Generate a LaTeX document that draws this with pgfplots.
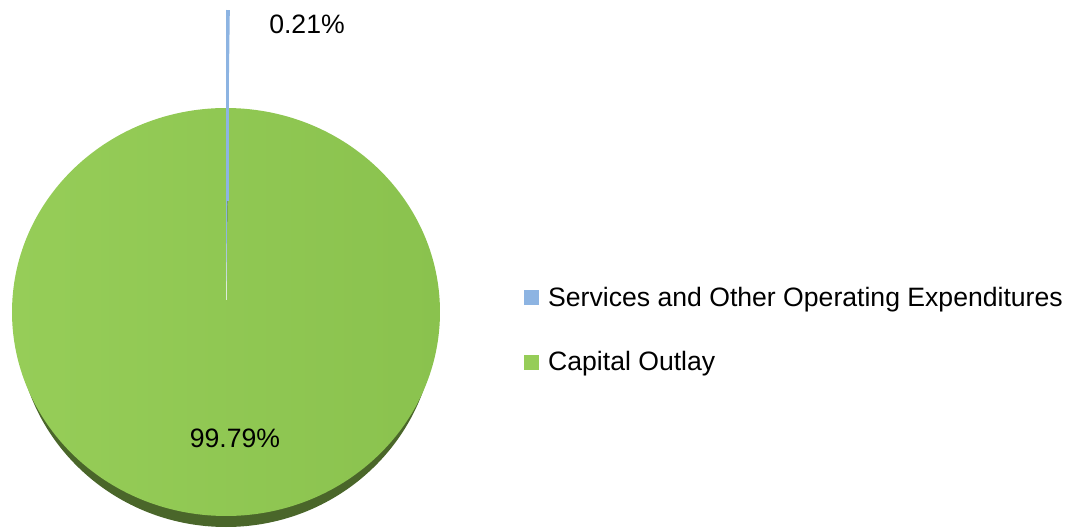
\documentclass[border=0pt]{standalone}
\usepackage{pgfplots}
\pgfplotsset{compat=1.18}
\usepackage{pgfplotstable}
\usepackage{fontspec}
\setmainfont{Liberation Sans}

\definecolor{svc}{RGB}{141,180,226}
\definecolor{capL}{RGB}{150,205,88}
\definecolor{capR}{RGB}{138,194,78}
\definecolor{capD}{RGB}{74,102,42}

% share of the total, in percent
\pgfplotstableread{
item share
Services 0.21
Capital 99.79
}\shares

\begin{document}
\begin{tikzpicture}
\pgfplotstablegetelem{0}{share}\of\shares \pgfmathsetmacro\sa{\pgfplotsretval}
\pgfplotstablegetelem{1}{share}\of\shares \pgfmathsetmacro\sb{\pgfplotsretval}
\pgfmathsetmacro\aA{90-3.6*\sa}
\pgfmathsetmacro\aB{\aA-3.6*\sb}
\begin{axis}[
    x=0.5pt, y=0.5pt,
    xmin=0, xmax=1077, ymin=0, ymax=531,
    hide axis, clip=false,
    legend cell align=left,
    legend style={at={(axis cs:524,201)}, anchor=west, draw=none, fill=none,
        inner sep=0pt, row sep=17pt,
        font=\fontsize{13.3}{15}\selectfont,
        nodes={inner xsep=4.5pt}},
    ]
\path (axis cs:0,0) rectangle (axis cs:1077,531);
% shadow under the pie
\fill[capD] (axis cs:226,208) ellipse [x radius=104.5pt, y radius=102pt];
% capital outlay slice
\path[left color=capL, right color=capR]
    (axis cs:226,219) -- ++(\aA:107pt and 102pt)
    arc[start angle=\aA, end angle=\aB, x radius=107pt, y radius=102pt] -- cycle;
\draw[white, line width=0.4pt, opacity=0.8] (axis cs:226,231) -- ++(90:96pt);
% services slice, pulled out
\fill[svc] (axis cs:226,231) -- ++(90:145pt)
    arc[start angle=90, end angle=\aA, radius=145pt] -- cycle;
\draw[svc, line width=1.2pt] (axis cs:227.5,330) -- (axis cs:227.5,521);
\node[font=\fontsize{13.3}{15}\selectfont] at (axis cs:307,507) {0.21\%};
\node[font=\fontsize{13.3}{15}\selectfont] at (axis cs:235,93) {99.79\%};
\addlegendimage{legend image code/.code={\fill[svc] (0pt,-3.5pt) rectangle (7pt,3.5pt);}}
\addlegendentry{Services and Other Operating Expenditures}
\addlegendimage{legend image code/.code={\fill[capL] (0pt,-3.5pt) rectangle (7pt,3.5pt);}}
\addlegendentry{Capital Outlay}
\end{axis}
\end{tikzpicture}
\end{document}
